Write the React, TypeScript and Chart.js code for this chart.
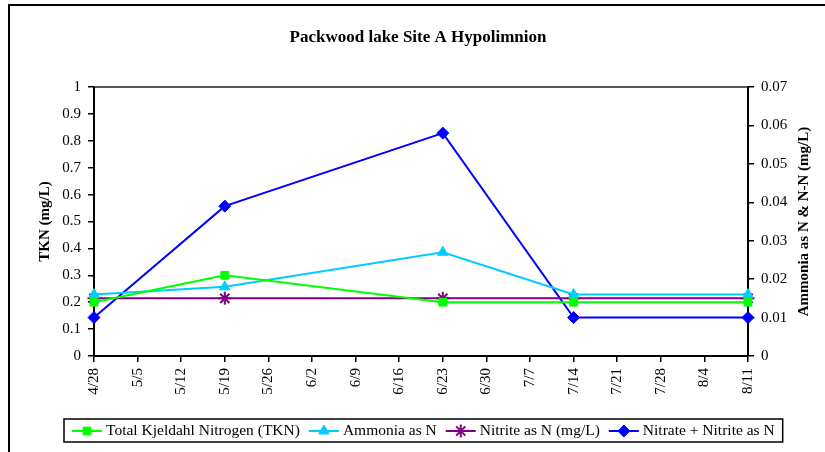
import React, { useEffect, useRef } from 'react';
import { Chart, registerables } from 'chart.js';
import { drawPoint } from 'chart.js/helpers';

Chart.register(...registerables);

const FONT = "'Liberation Serif', 'Times New Roman', serif";

const chartTitle = 'Packwood lake Site A Hypolimnion';
const leftAxisTitle = 'TKN (mg/L)';
const rightAxisTitle = 'Ammonia as N & N-N (mg/L)';

const weekLabels = ['4/28', '5/5', '5/12', '5/19', '5/26', '6/2', '6/9', '6/16', '6/23', '6/30', '7/7', '7/14', '7/21', '7/28', '8/4', '8/11'];
const sampleDates = ['4/28', '5/19', '6/23', '7/14', '8/11'];

const tkn = [0.2, 0.3, 0.2, 0.2, 0.2];
const ammonia = [0.016, 0.018, 0.027, 0.016, 0.016];
const nitrite = [0.015, 0.015, 0.015, 0.015, 0.015];
const nitrateNitrite = [0.01, 0.039, 0.058, 0.01, 0.01];

const seriesNames = ['Total Kjeldahl Nitrogen (TKN)', 'Ammonia as N', 'Nitrite as N (mg/L)', 'Nitrate + Nitrite as N'];

const toPoints = (vals: number[]) => sampleDates.map((d, i) => ({ x: d, y: vals[i] }));

const decorPlugin = {
  id: 'decor',
  afterDraw(chart: any) {
    const ctx: CanvasRenderingContext2D = chart.ctx;
    const ca = chart.chartArea;
    ctx.save();
    // outer chart border (cropped)
    ctx.strokeStyle = '#000';
    ctx.lineWidth = 2;
    ctx.beginPath();
    ctx.moveTo(9, 460);
    ctx.lineTo(9, 5);
    ctx.lineTo(830, 5);
    ctx.stroke();

    // plot area top border
    ctx.lineWidth = 1.5;
    ctx.strokeStyle = '#222';
    ctx.beginPath();
    ctx.moveTo(ca.left, ca.top);
    ctx.lineTo(ca.right, ca.top);
    ctx.stroke();

    // title
    ctx.fillStyle = '#000';
    ctx.textAlign = 'center';
    ctx.textBaseline = 'middle';
    ctx.font = `bold 17px ${FONT}`;
    ctx.fillText(chartTitle, 418, 38);

    // axis titles
    ctx.font = `bold 15px ${FONT}`;
    ctx.save();
    ctx.translate(45, (ca.top + ca.bottom) / 2);
    ctx.rotate(-Math.PI / 2);
    ctx.fillText(leftAxisTitle, 0, 0);
    ctx.restore();
    ctx.save();
    ctx.translate(804, (ca.top + ca.bottom) / 2);
    ctx.rotate(-Math.PI / 2);
    ctx.fillText(rightAxisTitle, 0, 0);
    ctx.restore();

    // legend
    ctx.font = `15.5px ${FONT}`;
    const pad = 8;
    const lineHalf = 15;
    const textOff = 19;
    const gap = 9;
    const datasets = chart.data.datasets;
    const widths = datasets.map((ds: any) => ctx.measureText(ds.label).width);
    let total = pad * 2;
    widths.forEach((w: number, i: number) => {
      total += lineHalf + textOff + w + (i < widths.length - 1 ? gap : 0);
    });
    const boxLeft = 64;
    const boxTop = 419;
    const boxH = 23;
    ctx.strokeStyle = '#000';
    ctx.lineWidth = 1.5;
    ctx.strokeRect(boxLeft, boxTop, total, boxH);
    const cy = boxTop + boxH / 2 + 0.5;
    let x = boxLeft + pad;
    datasets.forEach((ds: any, i: number) => {
      const mx = x + lineHalf;
      ctx.strokeStyle = ds.borderColor;
      ctx.lineWidth = 2;
      ctx.beginPath();
      ctx.moveTo(x, cy);
      ctx.lineTo(mx + lineHalf, cy);
      ctx.stroke();
      ctx.fillStyle = ds.pointBackgroundColor;
      ctx.strokeStyle = ds.pointBorderColor;
      ctx.lineWidth = ds.pointBorderWidth;
      drawPoint(ctx, { pointStyle: ds.pointStyle, radius: ds.pointRadius, rotation: 0, borderWidth: ds.pointBorderWidth }, mx, cy);
      ctx.fillStyle = '#000';
      ctx.textAlign = 'left';
      ctx.textBaseline = 'middle';
      ctx.fillText(ds.label, mx + textOff, cy);
      x = mx + textOff + widths[i] + gap;
    });
    ctx.restore();
  },
};

export default function App() {
  const ref = useRef<HTMLCanvasElement | null>(null);
  useEffect(() => {
    if (!ref.current) return;
    const tickFont = { family: FONT, size: 15 };
    const chart = new Chart(ref.current, {
      type: 'line',
      data: {
        labels: weekLabels,
        datasets: [
          {
            label: seriesNames[0],
            data: toPoints(tkn),
            yAxisID: 'y',
            borderColor: '#00FF00',
            backgroundColor: '#00FF00',
            pointBackgroundColor: '#00FF00',
            pointBorderColor: '#00FF00',
            pointBorderWidth: 1,
            pointStyle: 'rect',
            pointRadius: 5.5,
            borderWidth: 2,
            tension: 0,
          },
          {
            label: seriesNames[1],
            data: toPoints(ammonia),
            yAxisID: 'y1',
            borderColor: '#00CCFF',
            backgroundColor: '#00CCFF',
            pointBackgroundColor: '#00CCFF',
            pointBorderColor: '#00CCFF',
            pointBorderWidth: 1,
            pointStyle: 'triangle',
            pointRadius: 6,
            borderWidth: 2,
            tension: 0,
          },
          {
            label: seriesNames[2],
            data: toPoints(nitrite),
            yAxisID: 'y1',
            borderColor: '#800080',
            backgroundColor: '#800080',
            pointBackgroundColor: '#800080',
            pointBorderColor: '#800080',
            pointBorderWidth: 2,
            pointStyle: 'star',
            pointRadius: 6.5,
            borderWidth: 2,
            tension: 0,
          },
          {
            label: seriesNames[3],
            data: toPoints(nitrateNitrite),
            yAxisID: 'y1',
            borderColor: '#0000FF',
            backgroundColor: '#0000FF',
            pointBackgroundColor: '#0000FF',
            pointBorderColor: '#0000FF',
            pointBorderWidth: 1,
            pointStyle: 'rectRot',
            pointRadius: 6,
            borderWidth: 2,
            tension: 0,
          },
        ],
      },
      options: {
        responsive: false,
        animation: false,
        devicePixelRatio: 1,
        layout: { padding: { top: 87, left: 0, right: 0, bottom: 0 } },
        plugins: {
          legend: { display: false },
          title: { display: false },
          tooltip: { enabled: false },
        },
        scales: {
          x: {
            type: 'category',
            offset: false,
            grid: { drawOnChartArea: false, drawTicks: true, tickLength: 6, color: '#000', lineWidth: 1.5 },
            border: { color: '#000', width: 2 },
            ticks: { autoSkip: false, minRotation: 90, maxRotation: 90, color: '#000', font: tickFont, padding: 6 },
            afterFit: (s: any) => { s.height = 96; },
          },
          y: {
            position: 'left',
            min: 0,
            max: 1,
            grid: { drawOnChartArea: false, drawTicks: true, tickLength: 6, color: '#000', lineWidth: 1.5 },
            border: { color: '#000', width: 2 },
            ticks: {
              stepSize: 0.1,
              color: '#000',
              font: tickFont,
              padding: 7,
              callback: (v: any) => String(Math.round(Number(v) * 100) / 100),
            },
            afterFit: (s: any) => { s.width = 94; },
          },
          y1: {
            position: 'right',
            min: 0,
            max: 0.07,
            grid: { drawOnChartArea: false, drawTicks: true, tickLength: 6, color: '#000', lineWidth: 1.5 },
            border: { color: '#000', width: 2 },
            ticks: {
              stepSize: 0.01,
              color: '#000',
              font: tickFont,
              padding: 7,
              callback: (v: any) => String(Math.round(Number(v) * 1000) / 1000),
            },
            afterFit: (s: any) => { s.width = 77; },
          },
        },
      },
      plugins: [decorPlugin],
    });
    return () => chart.destroy();
  }, []);
  return (
    <div style={{ position: 'absolute', left: 0, top: 0, width: 825, height: 452, background: '#fff' }}>
      <canvas ref={ref} width={825} height={452} />
    </div>
  );
}
